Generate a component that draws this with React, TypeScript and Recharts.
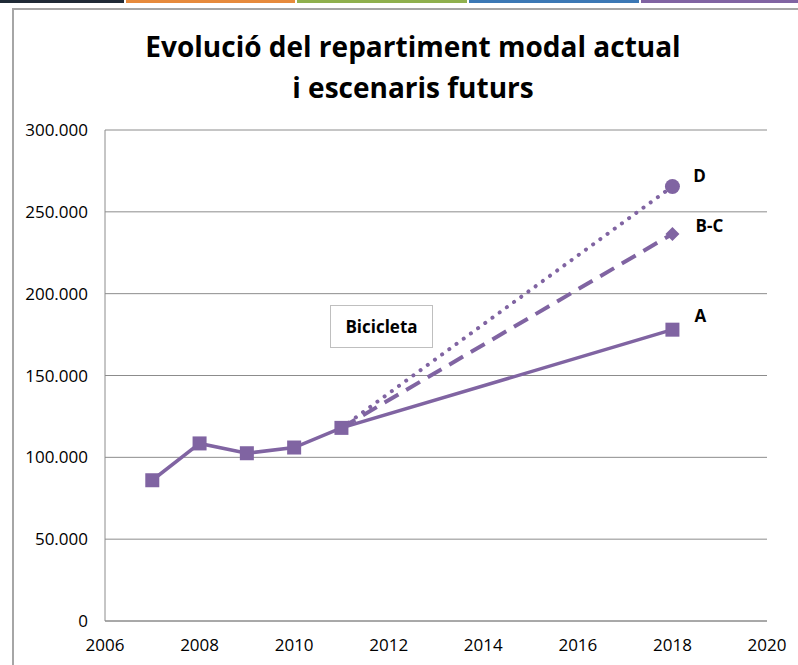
import React from "react";
import { CartesianGrid, Line, LineChart, XAxis, YAxis } from "recharts";

const years = [2007, 2008, 2009, 2010, 2011, 2018];
const actualA = [86000, 108500, 102500, 106000, 118000, 178000];
const scenarioBC = [null, null, null, null, 118000, 236500];
const scenarioD = [null, null, null, null, 118000, 265500];
const xTicks = [2006, 2008, 2010, 2012, 2014, 2016, 2018, 2020];
const yTicks = [0, 50000, 100000, 150000, 200000, 250000, 300000];

const data = years.map((year, i) => ({
  year,
  A: actualA[i],
  BC: scenarioBC[i],
  D: scenarioD[i],
}));

const PURPLE = "#8064a2";
const GRID = "#8c8c8c";
const FONT = "'Open Sans', Lato, sans-serif";
const lastIndex = years.length - 1;

const formatY = (v: number) => (v === 0 ? "0" : `${v / 1000}.000`);

const squareDot = (props: any) => {
  const { cx, cy, index } = props;
  if (cx == null || cy == null) return <g key={`sq-${index}`} />;
  return (
    <rect key={`sq-${index}`} x={cx - 7} y={cy - 7} width={14} height={14} fill={PURPLE} />
  );
};

const diamondDot = (props: any) => {
  const { cx, cy, index } = props;
  if (index !== lastIndex || cx == null) return <g key={`di-${index}`} />;
  const r = 7;
  return (
    <path
      key={`di-${index}`}
      d={`M${cx},${cy - r}L${cx + r},${cy}L${cx},${cy + r}L${cx - r},${cy}Z`}
      fill={PURPLE}
    />
  );
};

const circleDot = (props: any) => {
  const { cx, cy, index } = props;
  if (index !== lastIndex || cx == null) return <g key={`ci-${index}`} />;
  return <circle key={`ci-${index}`} cx={cx} cy={cy} r={7.5} fill={PURPLE} />;
};

const endLabel = (text: string, dx: number, dy: number) => (props: any) => {
  const { x, y, index } = props;
  if (index !== lastIndex || x == null) return <g key={`lb-${text}-${index}`} />;
  return (
    <text
      key={`lb-${text}-${index}`}
      x={x + dx}
      y={y + dy}
      textAnchor="middle"
      dominantBaseline="central"
      fontFamily={FONT}
      fontWeight={700}
      fontSize={17}
      fill="#000"
    >
      {text}
    </text>
  );
};

export default function App() {
  return (
    <div
      style={{
        position: "absolute",
        left: 0,
        top: 0,
        width: 798,
        height: 665,
        overflow: "hidden",
        background: "#fff",
        fontFamily: FONT,
      }}
    >
      <div style={{ position: "absolute", left: 0, top: 0, width: 798, height: 3, display: "flex" }}>
        <div style={{ width: 124, background: "#1f2a36" }} />
        <div style={{ width: 2 }} />
        <div style={{ width: 169, background: "#e68a3c" }} />
        <div style={{ width: 2 }} />
        <div style={{ width: 170, background: "#8fb04e" }} />
        <div style={{ width: 2 }} />
        <div style={{ width: 170, background: "#3b78b5" }} />
        <div style={{ width: 2 }} />
        <div style={{ flex: 1, background: PURPLE }} />
      </div>
      <div
        style={{
          position: "absolute",
          left: 12,
          top: 8,
          width: 820,
          height: 700,
          border: "2px solid #a6a6a6",
          boxSizing: "border-box",
        }}
      />
      <div
        style={{
          position: "absolute",
          left: 0,
          top: 26,
          width: 826,
          textAlign: "center",
          fontWeight: 700,
          fontSize: 28,
          lineHeight: "41px",
          color: "#000",
        }}
      >
        Evolució del repartiment modal actual
        <br />i escenaris futurs
      </div>
      <div style={{ position: "absolute", left: 0, top: 0 }}>
        <LineChart
          width={798}
          height={665}
          data={data}
          margin={{ top: 130, right: 31, bottom: 14, left: 10 }}
        >
          <CartesianGrid vertical={false} stroke={GRID} strokeWidth={1} />
          <XAxis
            dataKey="year"
            type="number"
            domain={[2006, 2020]}
            ticks={xTicks}
            height={30}
            axisLine={{ stroke: GRID }}
            tickLine={false}
            tickSize={0}
            tickMargin={18}
            tick={{ fill: "#000", fontSize: 17, fontFamily: FONT }}
            interval={0}
          />
          <YAxis
            type="number"
            domain={[0, 300000]}
            ticks={yTicks}
            width={95}
            axisLine={{ stroke: GRID }}
            tickLine={false}
            tickSize={0}
            tickMargin={17}
            tickFormatter={formatY}
            tick={{ fill: "#000", fontSize: 17, fontFamily: FONT }}
            interval={0}
          />
          <Line
            dataKey="D"
            stroke={PURPLE}
            strokeWidth={4}
            strokeDasharray="0.1 8.8"
            strokeLinecap="round"
            dot={circleDot}
            activeDot={false}
            connectNulls
            label={endLabel("D", 27, -11)}
            isAnimationActive={false}
          />
          <Line
            dataKey="BC"
            stroke={PURPLE}
            strokeWidth={4}
            strokeDasharray="16 9"
            dot={diamondDot}
            activeDot={false}
            connectNulls
            label={endLabel("B-C", 37, -8)}
            isAnimationActive={false}
          />
          <Line
            dataKey="A"
            stroke={PURPLE}
            strokeWidth={3.5}
            dot={squareDot}
            activeDot={false}
            label={endLabel("A", 28, -14)}
            isAnimationActive={false}
          />
        </LineChart>
      </div>
      <div
        style={{
          position: "absolute",
          left: 330,
          top: 305,
          width: 103,
          height: 43,
          border: "1px solid #bfbfbf",
          boxSizing: "border-box",
          background: "#fff",
          display: "flex",
          alignItems: "center",
          justifyContent: "center",
          fontWeight: 700,
          fontSize: 17,
          color: "#000",
        }}
      >
        Bicicleta
      </div>
    </div>
  );
}
